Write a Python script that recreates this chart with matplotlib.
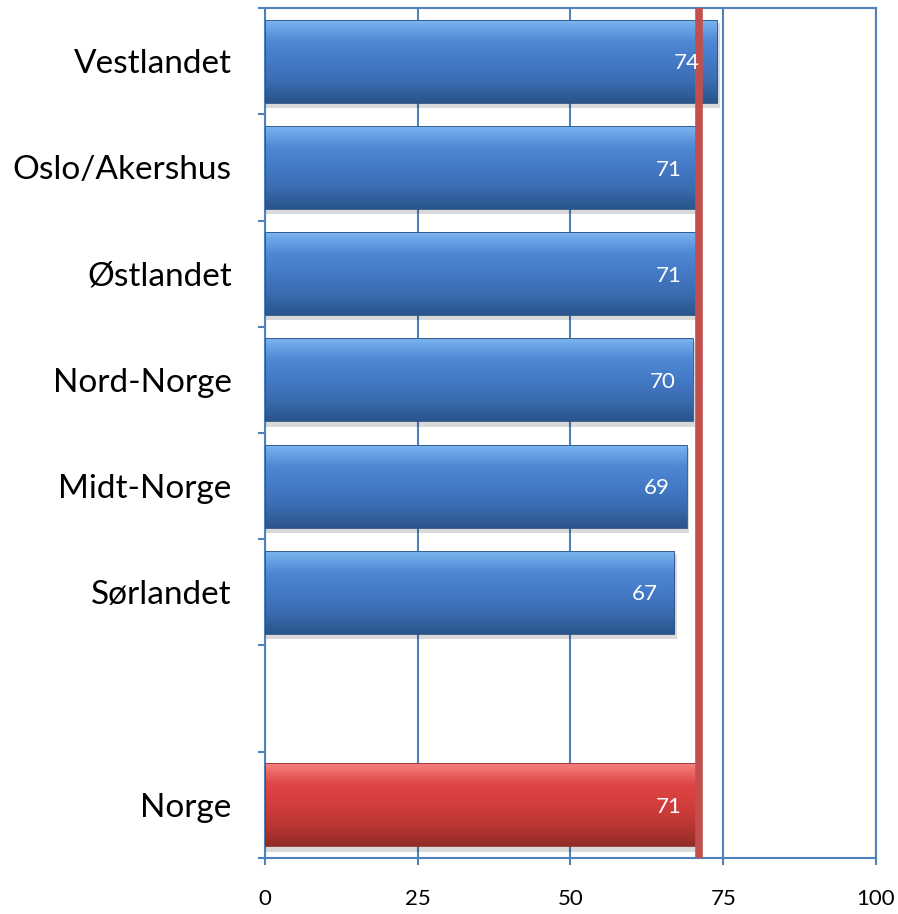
import numpy as np
import matplotlib.pyplot as plt
from matplotlib.colors import LinearSegmentedColormap

plt.rcParams['font.family'] = ['Lato', 'DejaVu Sans']

# regions top to bottom, blank slot before the national figure
regions = ['Vestlandet', 'Oslo/Akershus', 'Østlandet', 'Nord-Norge', 'Midt-Norge', 'Sørlandet', '', 'Norge']
values = [74, 71, 71, 70, 69, 67, None, 71]
national = 71
x_ticks = [0, 25, 50, 75, 100]

grid_col = '#4f81bd'
blue_cmap = LinearSegmentedColormap.from_list('blue_bar', ['#7ab4f0', '#4f88d4', '#4479c6', '#3a6cb0', '#2a548c'])
red_cmap = LinearSegmentedColormap.from_list('red_bar', ['#f58080', '#e04545', '#d23d3b', '#bc3733', '#922b28'])

fig = plt.figure(figsize=(8.98, 9.14), dpi=100)
ax = fig.add_axes([0.2951, 0.0613, 0.6804, 0.9299])

bar_h = 0.78
grad = np.linspace(0, 1, 64).reshape(-1, 1)
for i, v in enumerate(values):
    if v is None:
        continue
    cmap = red_cmap if regions[i] == 'Norge' else blue_cmap
    top, bot = i - bar_h / 2, i + bar_h / 2
    # soft shadow under the bar
    ax.add_patch(plt.Rectangle((0, top + 0.03), v + 0.4, bar_h + 0.02, color='#000000',
                               alpha=0.15, lw=0, zorder=2))
    ax.imshow(grad, cmap=cmap, aspect='auto', extent=(0, v, bot, top),
              interpolation='bicubic', zorder=3)
    ax.add_patch(plt.Rectangle((0, top), v, bar_h, fill=False, ec='#2a4f80' if cmap is blue_cmap else '#8e2a27',
                               lw=0.6, zorder=4))
    ax.text(v - 2.8, i + 0.02, str(v), color='white', fontsize=16, ha='right', va='center', zorder=6)

ax.axvline(national, color='#c0504d', lw=5.5, zorder=5, solid_capstyle='round')

ax.set_xlim(0, 100)
ax.set_ylim(len(regions) - 0.5, -0.5)
ax.set_xticks(x_ticks)
ax.set_xticklabels([str(t) for t in x_ticks], fontsize=16)
ax.set_yticks(range(len(regions)))
ax.set_yticklabels(regions, fontsize=24)
ax.set_yticks(np.arange(-0.5, len(regions), 1), minor=True)
ax.tick_params(axis='y', which='major', length=0, pad=24)
ax.tick_params(axis='y', which='minor', length=5, color=grid_col, width=1.5, direction='out')
ax.tick_params(axis='x', length=5, color=grid_col, width=1.5, pad=17)
ax.grid(axis='x', color=grid_col, lw=1.5, zorder=1)
ax.set_axisbelow(True)
for s in ax.spines.values():
    s.set_color(grid_col)
    s.set_linewidth(1.5)

fig.savefig('out.png', dpi=100)
